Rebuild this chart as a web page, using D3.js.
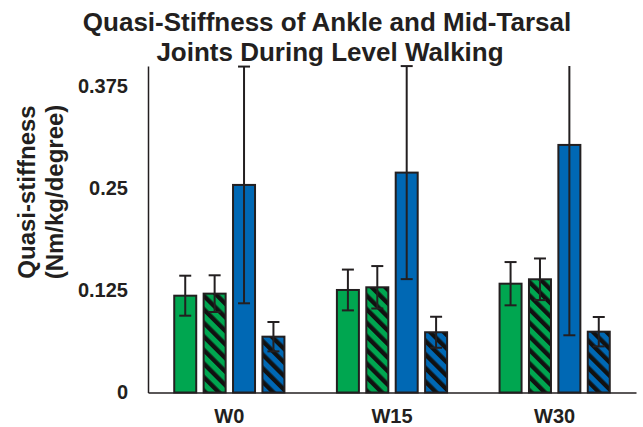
<!DOCTYPE html>
<html>
<head>
<meta charset="utf-8">
<script src="https://cdn.jsdelivr.net/npm/d3@7/dist/d3.min.js"></script>
<style>
  html, body { margin: 0; padding: 0; background: #ffffff; }
  svg { display: block; }
  text { font-family: "Liberation Sans", Arial, Helvetica, sans-serif; font-weight: bold; fill: #231f20; }
</style>
</head>
<body>
<svg id="chart" width="643" height="427"></svg>
<script>
// Walking speed conditions on the x axis
const conditions = ["W0", "W15", "W30"];

// Four joint / condition series drawn in each group
const series = ["ankleSolid", "ankleHatched", "midTarsalSolid", "midTarsalHatched"];

// Mean quasi-stiffness (Nm/kg/degree), one array per series, ordered W0, W15, W30
const ankleSolid       = [0.1186, 0.1256, 0.1333];
const ankleHatched     = [0.1211, 0.1289, 0.1387];
const midTarsalSolid   = [0.2543, 0.2694, 0.3033];
const midTarsalHatched = [0.0684, 0.0738, 0.0745];

// Standard deviations, same order
const ankleSolidSD       = [0.0245, 0.0250, 0.0265];
const ankleHatchedSD     = [0.0225, 0.0260, 0.0255];
const midTarsalSolidSD   = [0.1450, 0.1305, 0.2332];
const midTarsalHatchedSD = [0.0180, 0.0190, 0.0180];

// Y axis ticks
const yTickValues = [0, 0.125, 0.25, 0.375];
const yTickLabels = ["0", "0.125", "0.25", "0.375"];

const means = { ankleSolid, ankleHatched, midTarsalSolid, midTarsalHatched };
const sds = {
  ankleSolid: ankleSolidSD, ankleHatched: ankleHatchedSD,
  midTarsalSolid: midTarsalSolidSD, midTarsalHatched: midTarsalHatchedSD
};

const green = "#00a650";
const blue = "#0068b4";
const ink = "#231f20";
const style = {
  ankleSolid:       { color: green, hatch: false },
  ankleHatched:     { color: green, hatch: true },
  midTarsalSolid:   { color: blue,  hatch: false },
  midTarsalHatched: { color: blue,  hatch: true }
};

const rows = [];
conditions.forEach((c, i) => {
  series.forEach(s => rows.push({ cond: c, series: s, mean: means[s][i], sd: sds[s][i] }));
});

const svg = d3.select("#chart");
const plot = { left: 148, right: 636, top: 66, bottom: 392.5 };

// Diagonal stripe patterns for the hatched series
const period = 9.6;
const defs = svg.append("defs");
[["hatchGreen", green], ["hatchBlue", blue]].forEach(([id, col]) => {
  const p = defs.append("pattern")
    .attr("id", id)
    .attr("patternUnits", "userSpaceOnUse")
    .attr("width", period).attr("height", period)
    .attr("patternTransform", "rotate(-45)");
  p.append("rect").attr("width", period).attr("height", period).attr("fill", col);
  p.append("rect").attr("width", 4.4).attr("height", period).attr("fill", "#111111");
});

const yMax = 0.4;
const y = d3.scaleLinear().domain([0, yMax]).range([plot.bottom, plot.top]);
const x0 = d3.scaleBand().domain(conditions).range([plot.left, plot.right]).padding(0);
const groupWidth = 117.6;
const x1 = d3.scaleBand().domain(series).range([0, groupWidth]).paddingInner(0.252).paddingOuter(0.126);
const barX = d => x0(d.cond) + x0.bandwidth() / 2 - groupWidth / 2 + x1(d.series);

// Bars
svg.append("g").selectAll("rect")
  .data(rows)
  .join("rect")
  .attr("x", barX)
  .attr("y", d => y(d.mean))
  .attr("width", x1.bandwidth())
  .attr("height", d => y(0) - y(d.mean))
  .attr("fill", d => style[d.series].hatch
    ? (style[d.series].color === green ? "url(#hatchGreen)" : "url(#hatchBlue)")
    : style[d.series].color)
  .attr("stroke", ink)
  .attr("stroke-width", 2);

// Error bars, clipped at the top of the value axis
const capW = 12;
const eg = svg.append("g").attr("stroke", ink).attr("stroke-width", 2).attr("fill", "none");
rows.forEach(d => {
  const cx = barX(d) + x1.bandwidth() / 2;
  const hi = d.mean + d.sd;
  const lo = Math.max(0, d.mean - d.sd);
  const hiC = Math.min(hi, yMax);
  eg.append("line").attr("x1", cx).attr("x2", cx).attr("y1", y(hiC)).attr("y2", y(lo));
  eg.append("line").attr("x1", cx - capW / 2).attr("x2", cx + capW / 2).attr("y1", y(lo)).attr("y2", y(lo));
  if (hi <= yMax) {
    eg.append("line").attr("x1", cx - capW / 2).attr("x2", cx + capW / 2).attr("y1", y(hiC)).attr("y2", y(hiC));
  }
});

// Axes
const yAxis = svg.append("g")
  .attr("transform", `translate(${plot.left},0)`)
  .call(d3.axisLeft(y).tickValues(yTickValues).tickSize(0).tickSizeOuter(0).tickPadding(20)
    .tickFormat((v, i) => yTickLabels[i]));
yAxis.select(".domain").attr("stroke", ink).attr("stroke-width", 1.5);
yAxis.selectAll("text").style("font-size", "20px").attr("fill", ink);

const xAxis = svg.append("g")
  .attr("transform", `translate(0,${plot.bottom})`)
  .call(d3.axisBottom(x0).tickSize(0).tickSizeOuter(0).tickPadding(16.5));
xAxis.select(".domain").attr("stroke", ink).attr("stroke-width", 1.5);
xAxis.selectAll("text").style("font-size", "20px").attr("fill", ink);

// Y axis title
const yTitle = ["Quasi-stiffness", "(Nm/kg/degree)"];
svg.append("g").selectAll("text")
  .data(yTitle)
  .join("text")
  .attr("transform", (d, i) => `translate(${35 + i * 28},192) rotate(-90)`)
  .attr("text-anchor", "middle")
  .style("font-size", "24px")
  .text(d => d);

// Chart title
const title = ["Quasi-Stiffness of Ankle and Mid-Tarsal", "Joints During Level Walking"];
svg.append("g").selectAll("text")
  .data(title)
  .join("text")
  .attr("x", (d, i) => i === 0 ? 327 : 330)
  .attr("y", (d, i) => 31 + i * 30)
  .attr("text-anchor", "middle")
  .style("font-size", "26px")
  .text(d => d);
</script>
</body>
</html>
